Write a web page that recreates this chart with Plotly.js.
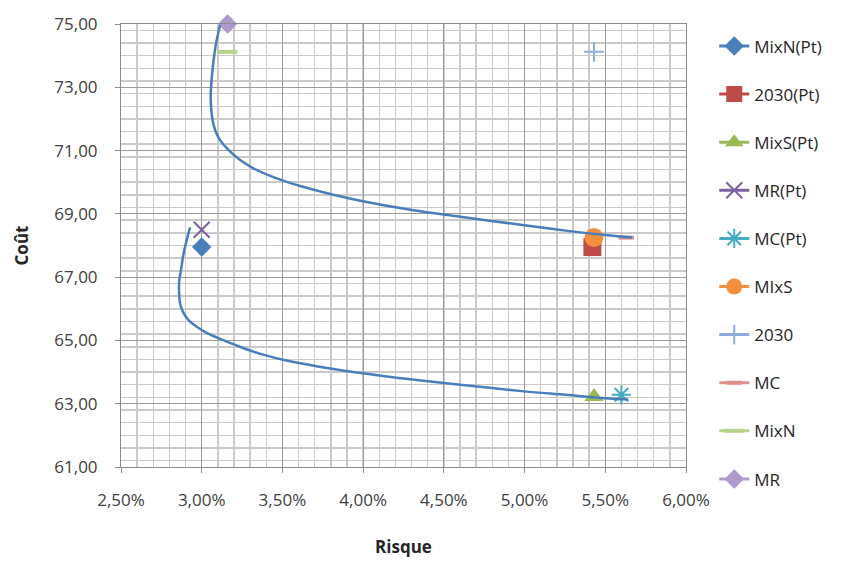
<!DOCTYPE html>
<html>
<head>
<meta charset="utf-8">
<script src="https://cdn.plot.ly/plotly-3.0.1.min.js"></script>
<style>html,body{margin:0;padding:0;background:#fff;}#chart{width:859px;height:561px;}</style>
</head>
<body>
<div id="chart"></div>
<script>
// Named point series (Risque as fraction, Coût)
const pointNames = ["MixN(Pt)", "2030(Pt)", "MixS(Pt)", "MR(Pt)", "MC(Pt)", "MIxS", "2030", "MC", "MixN", "MR"];
const pointRisk = [0.0300, 0.0542, 0.0543, 0.0300, 0.0560, 0.0543, 0.0543, 0.0563, 0.0316, 0.0316];
const pointCost = [67.95, 67.95, 63.22, 68.50, 63.28, 68.25, 74.12, 68.25, 74.12, 75.00];

// Frontier curves
const upperRisk = [0.03114, 0.03089, 0.03069, 0.03058, 0.03056, 0.03064, 0.03083, 0.03114, 0.03165, 0.03238, 0.03320, 0.03424, 0.03527, 0.03610, 0.03796, 0.03998, 0.04293, 0.04602, 0.04997, 0.05253, 0.05500, 0.05666];
const upperCost = [74.97, 74.39, 73.65, 73.02, 72.60, 72.07, 71.65, 71.33, 71.02, 70.70, 70.44, 70.20, 70.01, 69.88, 69.63, 69.40, 69.13, 68.91, 68.64, 68.47, 68.33, 68.25];
const lowerRisk = [0.02928, 0.02907, 0.02886, 0.02872, 0.02861, 0.02860, 0.02866, 0.02883, 0.02917, 0.02969, 0.03031, 0.03114, 0.03207, 0.03300, 0.03403, 0.03504, 0.03610, 0.03796, 0.03998, 0.04293, 0.04602, 0.04997, 0.05255, 0.05500, 0.05643];
const lowerCost = [68.57, 68.17, 67.70, 67.23, 66.91, 66.49, 66.17, 65.91, 65.65, 65.43, 65.24, 65.05, 64.86, 64.68, 64.52, 64.39, 64.28, 64.11, 63.96, 63.77, 63.60, 63.39, 63.28, 63.17, 63.13];

// Tick labels
const xTickVals = [0.025, 0.03, 0.035, 0.04, 0.045, 0.05, 0.055, 0.06];
const yTickVals = [61, 63, 65, 67, 69, 71, 73, 75];

const styles = [
  {color: "#4A7EBB", symbol: "diamond", size: 15, lw: 0},
  {color: "#BE4B48", symbol: "square", size: 18, lw: 0},
  {color: "#98B954", symbol: "triangle-up", size: 17, lw: 0},
  {color: "#7D60A0", symbol: "x-thin-open", size: 16, lw: 2},
  {color: "#46AAC5", symbol: "asterisk-open", size: 16, lw: 2},
  {color: "#F38F3E", symbol: "circle", size: 19, lw: 0},
  {color: "#8FAADC", symbol: "cross-thin-open", size: 14, lw: 2},
  {color: "#DD8F8D", symbol: "line-ew-open", size: 11, lw: 4},
  {color: "#B6D489", symbol: "line-ew-open", size: 14, lw: 4},
  {color: "#AE9ACB", symbol: "diamond", size: 15, lw: 0}
];

const traces = pointNames.map((name, i) => ({
  type: "scatter",
  mode: "lines+markers",
  name: name,
  legendgroup: "g" + i,
  cliponaxis: false,
  x: [pointRisk[i]],
  y: [pointCost[i]],
  line: {color: styles[i].color, width: 3},
  marker: {
    color: styles[i].color,
    symbol: styles[i].symbol,
    size: styles[i].size,
    line: {color: styles[i].color, width: styles[i].lw}
  }
}));

traces.push({
  type: "scatter", mode: "lines", x: upperRisk, y: upperCost, showlegend: false, cliponaxis: false,
  line: {color: "#4A7EBB", width: 2.5, shape: "spline", smoothing: 1}, hoverinfo: "skip"
});
traces.push({
  type: "scatter", mode: "lines", x: lowerRisk, y: lowerCost, showlegend: false, cliponaxis: false,
  line: {color: "#4A7EBB", width: 2.5, shape: "spline", smoothing: 1}, hoverinfo: "skip"
});

const font = {family: "Open Sans, DejaVu Sans, sans-serif", size: 17, color: "#404040"};

const layout = {
  width: 859, height: 561,
  margin: {l: 121, r: 173, t: 24, b: 94},
  paper_bgcolor: "#ffffff", plot_bgcolor: "#ffffff",
  separators: ", ",
  font: font,
  showlegend: true,
  xaxis: {
    range: [0.025, 0.06],
    tickvals: xTickVals,
    tickformat: ".2%",
    automargin: false,
    showgrid: true, gridcolor: "#9a9a9a", gridwidth: 1,
    minor: {dtick: 0.001, showgrid: true, gridcolor: "#cacaca", gridwidth: 1.5, ticks: ""},
    ticks: "outside", ticklen: 5, tickcolor: "#8c8c8c",
    ticklabelstandoff: 13,
    showline: true, linecolor: "#8c8c8c", linewidth: 1, mirror: true,
    zeroline: false,
    tickfont: {family: font.family, size: 17, color: "#404040"},
    title: {text: "Risque", font: {family: font.family, size: 17, color: "#262626", weight: "bold"}, standoff: 30}
  },
  yaxis: {
    range: [61, 75],
    tickvals: yTickVals,
    tickformat: ".2f",
    automargin: false,
    showgrid: true, gridcolor: "#9a9a9a", gridwidth: 1,
    minor: {dtick: 0.4, showgrid: true, gridcolor: "#cacaca", gridwidth: 1.5, ticks: ""},
    ticks: "outside", ticklen: 5, tickcolor: "#8c8c8c",
    ticklabelstandoff: 14,
    showline: true, linecolor: "#8c8c8c", linewidth: 1, mirror: true,
    zeroline: false,
    tickfont: {family: font.family, size: 17, color: "#404040"},
    title: {text: "Coût", font: {family: font.family, size: 17, color: "#262626", weight: "bold"}, standoff: 21}
  },
  legend: {
    x: 1.05, xanchor: "left",
    y: 0.99, yanchor: "top",
    maxheight: 540,
    tracegroupgap: 23,
    traceorder: "grouped",
    font: {family: font.family, size: 17, color: "#262626"},
    bgcolor: "rgba(0,0,0,0)",
    itemclick: false
  }
};

Plotly.newPlot("chart", traces, layout, {displayModeBar: false, staticPlot: true});
</script>
</body>
</html>
